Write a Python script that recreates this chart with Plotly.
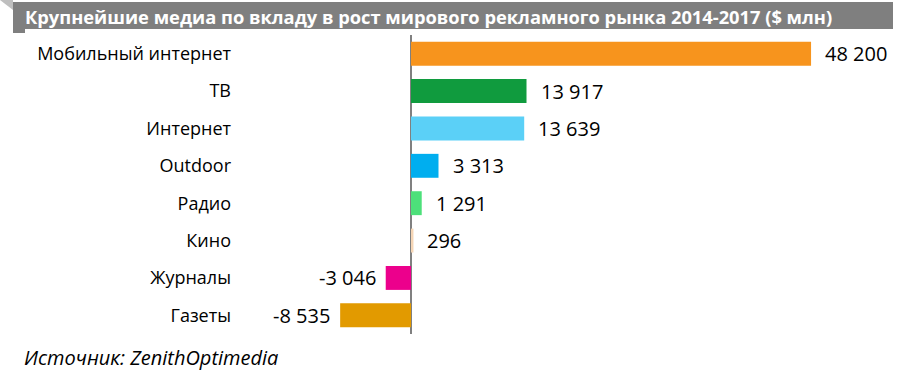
import plotly.graph_objects as go

categories = ["Мобильный интернет", "ТВ", "Интернет", "Outdoor", "Радио", "Кино", "Журналы", "Газеты"]
values = [48200, 13917, 13639, 3313, 1291, 296, -3046, -8535]
colors = ["#F7941D", "#109B3E", "#5BD0F7", "#00AEEF", "#4DE07A", "#F5D5B5", "#EC008C", "#E29A00"]
title_text = "Крупнейшие медиа по вкладу в рост мирового рекламного рынка 2014-2017 ($ млн)"
source_text = "Источник: ZenithOptimedia"

FONT = "Open Sans, Noto Sans, sans-serif"
W, H = 900, 384
L, R, T, B = 240, 0, 35, 50
pw, ph = W - L - R, H - T - B

def px(x):
    return (x - L) / pw

def py(y):
    return (H - B - y) / ph

def fmt(v):
    s = f"{abs(v):,}".replace(",", " ")
    return ("-" if v < 0 else "") + s

fig = go.Figure()
fig.add_trace(go.Bar(
    y=categories, x=values, orientation="h",
    marker=dict(color=colors, line=dict(width=0)),
    width=0.64, hoverinfo="skip",
))

for c, v in zip(categories, values):
    fig.add_annotation(
        x=v, y=c, text=fmt(v), showarrow=False,
        xanchor="left" if v >= 0 else "right",
        xshift=12 if v >= 0 else -8,
        font=dict(family=FONT, size=20, color="#000000"),
    )

# title bar
fig.add_shape(type="rect", xref="paper", yref="paper",
              x0=px(13), x1=px(893), y0=py(29), y1=py(2),
              fillcolor="#7F7F7F", line=dict(width=0), layer="below")
fig.add_shape(type="rect", xref="paper", yref="paper",
              x0=px(13), x1=px(25), y0=py(33), y1=py(29),
              fillcolor="#7F7F7F", line=dict(width=0), layer="below")
fig.add_shape(type="path", xref="paper", yref="paper",
              path=f"M {px(0)},{py(0)} L {px(13)},{py(0)} L {px(13)},{py(10)} Z",
              fillcolor="#BFBFBF", line=dict(width=0), layer="below")
fig.add_annotation(xref="paper", yref="paper", x=px(23), y=py(16),
                   xanchor="left", yanchor="middle", showarrow=False,
                   text=f"<b>{title_text}</b>",
                   font=dict(family=FONT, size=18.3, color="#FFFFFF"))
fig.add_annotation(xref="paper", yref="paper", x=px(22), y=py(357),
                   xanchor="left", yanchor="middle", showarrow=False,
                   text=f"<i>{source_text}</i>",
                   font=dict(family=FONT, size=20, color="#000000"))

x0v = -(411 - L) / 0.0083
x1v = (W - R - 411) / 0.0083
fig.update_layout(
    width=W, height=H,
    margin=dict(l=L, r=R, t=T, b=B, pad=0),
    paper_bgcolor="white", plot_bgcolor="white",
    showlegend=False, bargap=0.36,
    xaxis=dict(range=[x0v, x1v], showgrid=False, showticklabels=False,
               zeroline=True, zerolinecolor="#808080", zerolinewidth=2,
               showline=False, fixedrange=True, automargin=False),
    yaxis=dict(autorange="reversed", showgrid=False, showline=False,
               ticks="", ticklabelstandoff=8, automargin=False,
               tickfont=dict(family=FONT, size=18, color="#000000"),
               fixedrange=True),
)

fig.write_html("out.html", config={"displayModeBar": False},
               post_script="document.body.style.margin='0';document.body.style.overflow='hidden';")
